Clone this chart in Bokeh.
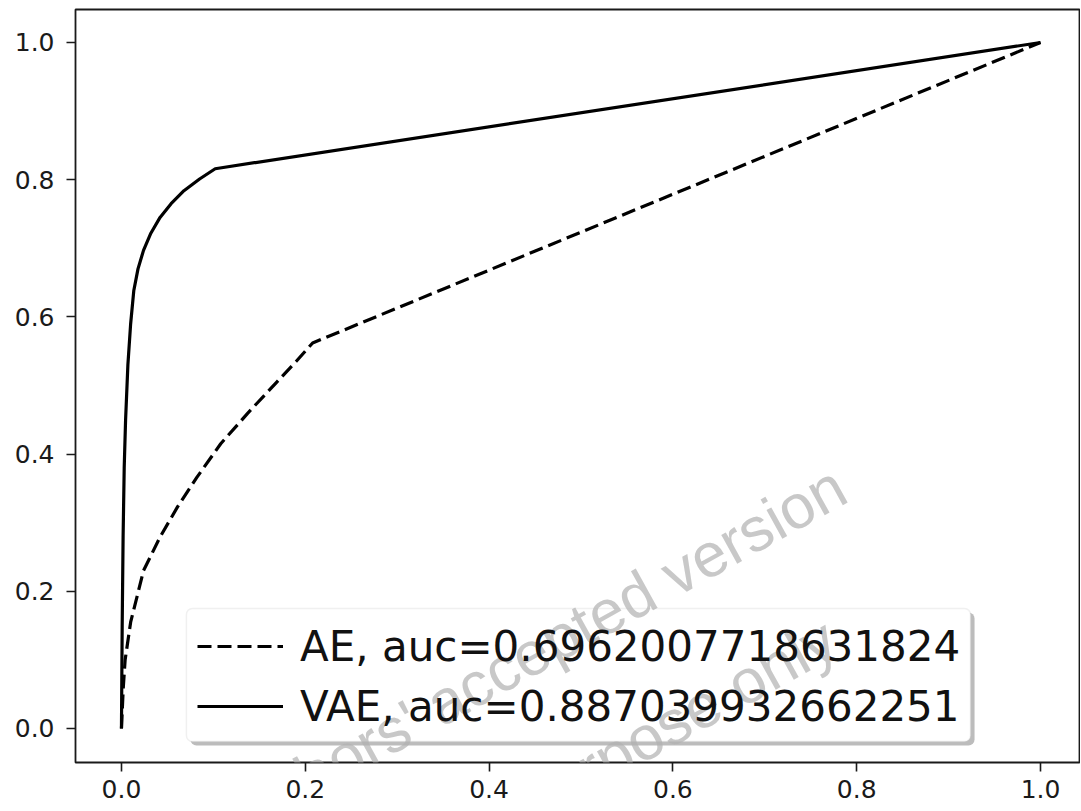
from bokeh.plotting import figure
from bokeh.models import (Range1d, FixedTicker, NumeralTickFormatter, Legend, LegendItem,
                          Label, BoxAnnotation)
from bokeh.embed import file_html
from bokeh.resources import INLINE

# ---- data ----
ae_fpr = [0.0, 0.002, 0.004, 0.010, 0.024, 0.042, 0.061, 0.082, 0.108, 0.137, 0.169, 0.190, 0.208, 1.0]
ae_tpr = [0.0, 0.060, 0.100, 0.155, 0.230, 0.279, 0.323, 0.366, 0.415, 0.459, 0.505, 0.535, 0.562, 1.0]

vae_fpr = [0.0, 0.0008, 0.0018, 0.003, 0.0045, 0.007, 0.010, 0.0134, 0.018, 0.024, 0.032,
           0.042, 0.054, 0.068, 0.085, 0.102, 1.0]
vae_tpr = [0.0, 0.15, 0.28, 0.38, 0.45, 0.53, 0.59, 0.638, 0.670, 0.697, 0.722,
           0.745, 0.765, 0.784, 0.801, 0.816, 1.0]

ae_label = "AE, auc=0.6962007718631824"
vae_label = "VAE, auc=0.887039932662251"
ticks = [0.0, 0.2, 0.4, 0.6, 0.8, 1.0]

W, H = 1080, 810

p = figure(width=W, height=H, output_backend="svg", toolbar_location=None,
           x_range=Range1d(-0.05, 1.0424), y_range=Range1d(-0.0496, 1.0481),
           min_border_left=75, min_border_right=1, min_border_top=9, min_border_bottom=48)
p.background_fill_color = "white"
p.border_fill_color = "white"
p.outline_line_color = "#1a1a1a"
p.outline_line_width = 1.8
p.xgrid.visible = False
p.ygrid.visible = False

for ax in (p.xaxis[0], p.yaxis[0]):
    ax.ticker = FixedTicker(ticks=ticks)
    ax.formatter = NumeralTickFormatter(format="0.0")
    ax.axis_line_color = None
    ax.major_tick_out = 9
    ax.major_tick_in = 0
    ax.minor_tick_out = 0
    ax.minor_tick_in = 0
    ax.major_tick_line_color = "#1a1a1a"
    ax.major_tick_line_width = 1.6
    ax.major_label_text_font = "DejaVu Sans"
    ax.major_label_text_font_size = "25px"
    ax.major_label_text_color = "#1a1a1a"
p.xaxis[0].major_label_standoff = 8
p.yaxis[0].major_label_standoff = 12

r_ae = p.line(ae_fpr, ae_tpr, line_color="black", line_width=3.2, line_dash="14 6",
              line_join="round")
r_vae = p.line(vae_fpr, vae_tpr, line_color="black", line_width=3.2, line_join="round")

# legend shadow and legend panel (drawn as boxes so the watermark can lie over them)
shadow = BoxAnnotation(left=0.0751, right=0.9282, top=0.1691, bottom=-0.0248,
                       fill_color="#7a7a7a", fill_alpha=0.5, line_color=None)
panel = BoxAnnotation(left=0.0707, right=0.9238, top=0.1749, bottom=-0.01895,
                      fill_color="white", fill_alpha=1.0, line_color="#cccccc",
                      line_width=1.5)
if "border_radius" in BoxAnnotation.properties():
    shadow.border_radius = 6
    panel.border_radius = 6
p.add_layout(shadow)
p.add_layout(panel)

# watermark (page pixel positions of each line's baseline start)
wm_texts = ["Authors' accepted version", "purpose only", "her"]
wm_px = [(218, 826), (520, 806), (757, 839)]
wm_style = dict(angle=0.506, text_font="Liberation Sans", text_font_size="62px",
                text_color="#b0b0b0", text_alpha=0.7, text_align="left",
                text_baseline="alphabetic")
for t, (px, py) in zip(wm_texts, wm_px):
    try:
        lab = Label(x=px, y=py, x_units="canvas", y_units="canvas", text=t, **wm_style)
    except Exception:
        lab = Label(x=(px - 121) / 919, y=(728 - py) / 686, text=t, **wm_style)
    p.add_layout(lab)

legend = Legend(items=[LegendItem(label=ae_label, renderers=[r_ae]),
                       LegendItem(label=vae_label, renderers=[r_vae])],
                location=(111, 20))
legend.label_text_font = "DejaVu Sans"
legend.label_text_font_size = "42px"
legend.label_text_color = "#111111"
legend.glyph_width = 86
legend.glyph_height = 50
legend.label_height = 50
legend.label_standoff = 17
legend.padding = 11
legend.spacing = 10
legend.margin = 0
legend.border_line_color = "white"
legend.border_line_alpha = 0.0
legend.background_fill_alpha = 0.0
p.add_layout(legend)

open("out.html", "w").write(file_html(p, INLINE))
